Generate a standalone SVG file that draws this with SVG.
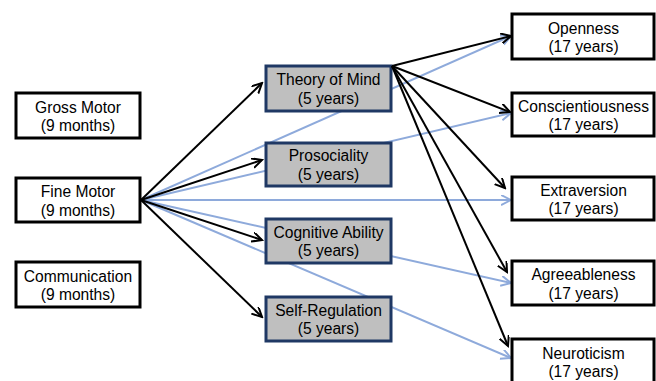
<svg xmlns="http://www.w3.org/2000/svg" width="656" height="381" viewBox="0 0 656 381">
<defs>
<style>
.wbox{fill:#ffffff;stroke:#000000;stroke-width:3}
.gbox{fill:#bfbfbf;stroke:#1f3864;stroke-width:3}
.t{font-family:"Liberation Sans",Arial,sans-serif;font-size:15.6px;fill:#000;text-anchor:middle}
.blk{stroke:#000;stroke-width:2;fill:none;marker-end:url(#ab)}
.blu{stroke:#8eaadb;stroke-width:2;fill:none;marker-end:url(#au)}
</style>
<marker id="ab" markerWidth="12" markerHeight="12" refX="10" refY="5" orient="auto" markerUnits="userSpaceOnUse" viewBox="0 0 12 12">
<path d="M0,0 L10,5 L0,10" fill="none" stroke="#000" stroke-width="2"/>
</marker>
<marker id="au" markerWidth="12" markerHeight="12" refX="10" refY="5" orient="auto" markerUnits="userSpaceOnUse" viewBox="0 0 12 12">
<path d="M0,0 L10,5 L0,10" fill="none" stroke="#8eaadb" stroke-width="2"/>
</marker>
</defs>
<rect width="656" height="381" fill="#fff"/>
<g id="connectors-blue">
<line class="blu" x1="141" y1="200" x2="511" y2="36"/>
<line class="blu" x1="141" y1="200" x2="511" y2="113"/>
<line class="blu" x1="141" y1="200" x2="511" y2="200"/>
<line class="blu" x1="141" y1="200" x2="511" y2="283"/>
<line class="blu" x1="141" y1="200" x2="511" y2="358"/>
</g>
<g id="tom"><rect class="gbox" x="266" y="66" width="125" height="45"/><text class="t" x="328.5" y="85">Theory of Mind</text><text class="t" x="328.5" y="103.5">(5 years)</text></g>
<g id="prosociality"><rect class="gbox" x="266" y="143" width="125" height="43"/><text class="t" x="328.5" y="161">Prosociality</text><text class="t" x="328.5" y="179.5">(5 years)</text></g>
<g id="cognitive"><rect class="gbox" x="266" y="219" width="125" height="44"/><text class="t" x="328.5" y="237.5">Cognitive Ability</text><text class="t" x="328.5" y="256">(5 years)</text></g>
<g id="selfreg"><rect class="gbox" x="266" y="297" width="125" height="44"/><text class="t" x="328.5" y="315.5">Self-Regulation</text><text class="t" x="328.5" y="334">(5 years)</text></g>
<g id="connectors-black">
<line class="blk" x1="141" y1="200" x2="262" y2="83"/>
<line class="blk" x1="141" y1="200" x2="262" y2="160"/>
<line class="blk" x1="141" y1="200" x2="262" y2="240"/>
<line class="blk" x1="141" y1="200" x2="262" y2="317"/>
<line class="blk" x1="392" y1="66" x2="511" y2="36"/>
<line class="blk" x1="392" y1="66" x2="510" y2="112"/>
<line class="blk" x1="392" y1="66" x2="505" y2="188"/>
<line class="blk" x1="392" y1="66" x2="507" y2="272"/>
<line class="blk" x1="392" y1="66" x2="508" y2="346"/>
</g>
<g id="gross"><rect class="wbox" x="16" y="93" width="124" height="45"/><text class="t" x="78" y="112.5">Gross Motor</text><text class="t" x="78" y="131">(9 months)</text></g>
<g id="fine"><rect class="wbox" x="16" y="178" width="124" height="44"/><text class="t" x="78" y="197">Fine Motor</text><text class="t" x="78" y="215.5">(9 months)</text></g>
<g id="communication"><rect class="wbox" x="16" y="262" width="124" height="45"/><text class="t" x="78" y="281.5">Communication</text><text class="t" x="78" y="300">(9 months)</text></g>
<g id="openness"><rect class="wbox" x="512" y="14" width="142" height="45"/><text class="t" x="583.5" y="33.5">Openness</text><text class="t" x="583.5" y="52">(17 years)</text></g>
<g id="conscientiousness"><rect class="wbox" x="512" y="93" width="142" height="43"/><text class="t" x="583.5" y="111.5">Conscientiousness</text><text class="t" x="583.5" y="130">(17 years)</text></g>
<g id="extraversion"><rect class="wbox" x="512" y="177" width="142" height="43"/><text class="t" x="583.5" y="195.5">Extraversion</text><text class="t" x="583.5" y="214">(17 years)</text></g>
<g id="agreeableness"><rect class="wbox" x="512" y="261" width="142" height="44"/><text class="t" x="583.5" y="280">Agreeableness</text><text class="t" x="583.5" y="298.5">(17 years)</text></g>
<g id="neuroticism"><rect class="wbox" x="512" y="339" width="142" height="46"/><text class="t" x="583.5" y="358.5">Neuroticism</text><text class="t" x="583.5" y="377">(17 years)</text></g>
</svg>
